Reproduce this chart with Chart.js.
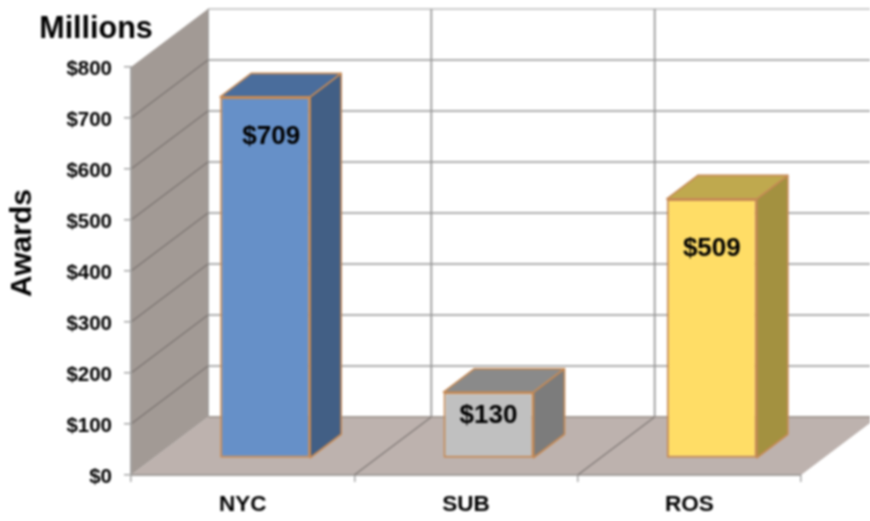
<!DOCTYPE html>
<html>
<head>
<meta charset="utf-8">
<style>
html,body{margin:0;padding:0;background:#fff;}
canvas{display:block;filter:blur(0.8px);}
</style>
<script src="https://cdn.jsdelivr.net/npm/chart.js@4"></script>
</head>
<body>
<canvas id="c" width="870" height="521"></canvas>
<script>
const categories = ['NYC', 'SUB', 'ROS'];
const awards = [709, 130, 509];
const yTicks = [0, 100, 200, 300, 400, 500, 600, 700, 800];

const frontColors = ['#6690c8', '#c0c0c0', '#ffdd66'];
const sideColors = ['#425f85', '#7c7c7c', '#a39140'];
const topColors = ['#4a6d9c', '#8a8a8a', '#bfa94e'];
const edgeColor = '#c68a55';
const labelOffsets = [[6, 40], [0, 24], [0, 50]];

const depth = {x: 77, y: -58};       // front plane to back wall
const barShift = {x: 22.5, y: -16.5};  // front plane to bar front
const barDepth = {x: 31, y: -23.5};  // bar thickness
const FONT = '"Liberation Sans", Arial, sans-serif';

function poly(ctx, pts, fill, stroke, lw) {
  ctx.beginPath();
  pts.forEach((p, i) => i ? ctx.lineTo(p[0], p[1]) : ctx.moveTo(p[0], p[1]));
  ctx.closePath();
  if (fill) { ctx.fillStyle = fill; ctx.fill(); }
  if (stroke) { ctx.strokeStyle = stroke; ctx.lineWidth = lw; ctx.lineJoin = 'round'; ctx.stroke(); }
}
function line(ctx, x1, y1, x2, y2, color, lw) {
  ctx.beginPath(); ctx.moveTo(x1, y1); ctx.lineTo(x2, y2);
  ctx.strokeStyle = color; ctx.lineWidth = lw; ctx.stroke();
}

const box3d = {
  id: 'box3d',
  beforeDatasetsDraw(chart) {
    const {ctx, scales: {x, y}} = chart;
    const L = x.left, R = x.right, B = y.getPixelForValue(0), T = y.getPixelForValue(800);
    ctx.save();
    // back wall grid
    yTicks.forEach(v => {
      const py = y.getPixelForValue(v) + depth.y;
      line(ctx, L + depth.x, py, R + depth.x, py, v === 800 ? '#bcbcbc' : '#969696', 1.7);
    });
    const step = (R - L) / categories.length;
    for (let i = 0; i <= categories.length; i++) {
      const px = L + step * i + depth.x;
      line(ctx, px, T + depth.y, px, B + depth.y, '#969696', 1.7);
    }
    // floor and side wall
    poly(ctx, [[L, B], [R, B], [R + depth.x, B + depth.y], [L + depth.x, B + depth.y]], '#bdb2ae');
    poly(ctx, [[L, B], [L + depth.x, B + depth.y], [L + depth.x, T + depth.y], [L, T]], '#a29a95');
    line(ctx, L + depth.x, B + depth.y, R + depth.x, B + depth.y, '#a0968f', 1.5);
    line(ctx, L, B, R, B, '#989492', 1.5);
    for (let i = 1; i < categories.length; i++) {
      const px = L + step * i;
      line(ctx, px, B, px + depth.x, B + depth.y, '#7f7875', 1.2);
    }
    yTicks.slice(1, -1).forEach(v => {
      const py = y.getPixelForValue(v);
      line(ctx, L, py, L + depth.x, py + depth.y, '#7a7370', 1.2);
    });
    line(ctx, L, T, L, B, '#a5a5a5', 1.5);
    ctx.restore();

    // bars sit forward of the back wall, on the floor
    ctx.save();
    ctx.translate(barShift.x, barShift.y);
    chart.getDatasetMeta(0).data.forEach((b, i) => {
      const l = b.x - b.width / 2, r = b.x + b.width / 2, t = b.y, f = b.base;
      const dx = barDepth.x, dy = barDepth.y;
      poly(ctx, [[r, t], [r + dx, t + dy], [r + dx, f + dy], [r, f]], sideColors[i], edgeColor, 1.6);
      poly(ctx, [[l, t], [l + dx, t + dy], [r + dx, t + dy], [r, t]], topColors[i], edgeColor, 1.6);
    });
  },
  afterDatasetsDraw(chart) {
    const {ctx} = chart;
    ctx.textAlign = 'center';
    ctx.textBaseline = 'middle';
    ctx.fillStyle = '#000';
    ctx.font = 'bold 26px ' + FONT;
    chart.getDatasetMeta(0).data.forEach((b, i) => {
      ctx.fillText('$' + awards[i], b.x + labelOffsets[i][0], b.y + labelOffsets[i][1]);
    });
    ctx.restore();

    ctx.save();
    ctx.fillStyle = '#000';
    ctx.textAlign = 'center';
    ctx.textBaseline = 'middle';
    ctx.font = 'bold 30.5px ' + FONT;
    ctx.fillText('Millions', 96, 30);
    ctx.font = 'bold 30px ' + FONT;
    ctx.translate(23, 243);
    ctx.rotate(-Math.PI / 2);
    ctx.fillText('Awards', 0, 0);
    ctx.restore();
  }
};

new Chart(document.getElementById('c'), {
  type: 'bar',
  plugins: [box3d],
  data: {
    labels: categories,
    datasets: [{
      data: awards,
      backgroundColor: frontColors,
      borderColor: edgeColor,
      borderWidth: 2,
      borderSkipped: false,
      categoryPercentage: 1,
      barPercentage: 0.403
    }]
  },
  options: {
    responsive: false,
    animation: false,
    events: [],
    layout: {padding: {left: 0, right: 69, top: 67, bottom: 0}},
    plugins: {legend: {display: false}, tooltip: {enabled: false}, title: {display: false}},
    scales: {
      x: {
        afterFit(s) { s.height = 46; },
        border: {color: '#a5a5a5', width: 1.5},
        grid: {drawOnChartArea: false, drawTicks: true, tickLength: 7, color: '#a5a5a5', lineWidth: 1.5},
        ticks: {color: '#000', padding: 9, font: {family: FONT, weight: 'bold', size: 22.5}, maxRotation: 0}
      },
      y: {
        min: 0, max: 800,
        afterFit(s) { s.width = 131; },
        border: {color: '#a5a5a5', width: 1.5},
        grid: {drawOnChartArea: false, drawTicks: true, tickLength: 7, color: '#a5a5a5', lineWidth: 1.5},
        ticks: {
          stepSize: 100, color: '#000', padding: 12, labelOffset: 2,
          font: {family: FONT, weight: 'bold', size: 20.5},
          callback: v => '$' + v
        }
      }
    }
  }
});
</script>
</body>
</html>
